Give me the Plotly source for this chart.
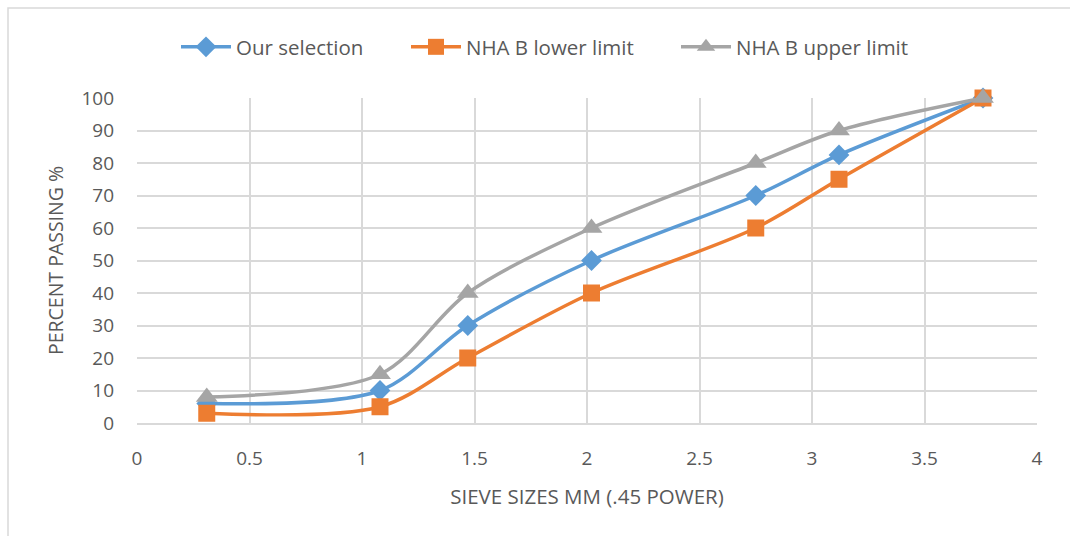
import plotly.graph_objects as go

sieve_x = [0.31, 1.08, 1.47, 2.02, 2.75, 3.12, 3.76]
our_selection = [6, 10, 30, 50, 70, 82.5, 100]
lower_limit = [3, 5, 20, 40, 60, 75, 100]
upper_limit = [8, 15, 40, 60, 80, 90, 100]

x_ticks = [0, 0.5, 1, 1.5, 2, 2.5, 3, 3.5, 4]
y_ticks = [0, 10, 20, 30, 40, 50, 60, 70, 80, 90, 100]

FONT = "'Open Sans', sans-serif"
TXT = "#595959"
GRID = "#d9d9d9"

fig = go.Figure()
series = [
    ("Our selection", our_selection, "#5B9BD5", "diamond", 16, "legend", 180),
    ("NHA B lower limit", lower_limit, "#ED7D31", "square", 17, "legend2", 410),
    ("NHA B upper limit", upper_limit, "#A5A5A5", "triangle-up", 19, "legend3", 680),
]
legend_cfg = {}
for name, ys, col, sym, sz, lg, lx in series:
    fig.add_trace(go.Scatter(
        x=sieve_x, y=ys, name=name, mode="lines+markers",
        line=dict(color=col, width=3.5, shape="spline", smoothing=0.9),
        marker=dict(color=col, symbol=sym, size=sz),
        cliponaxis=False, legend=lg,
    ))
    legend_cfg[lg] = dict(x=(lx - 137 - 4) / 900, xanchor="left", y=1 + (98 - 47) / 325, yanchor="middle",
                          orientation="h", bgcolor="rgba(0,0,0,0)", itemwidth=50,
                          font=dict(size=20.5, color=TXT, family=FONT))

fig.update_layout(
    width=1070, height=536,
    margin=dict(l=137, r=33, t=98, b=113, autoexpand=False),
    paper_bgcolor="white", plot_bgcolor="white",
    font=dict(family=FONT, color=TXT, size=19),
    showlegend=True,
    **legend_cfg,
    xaxis=dict(range=[0, 4], tickvals=x_ticks, ticktext=[f"{v:g}" for v in x_ticks],
               showgrid=True, gridcolor=GRID, gridwidth=1.5, zeroline=False,
               showline=True, linecolor=GRID, linewidth=1.5, mirror=False,
               ticks="", tickfont=dict(size=19, color=TXT), ticklabelstandoff=17,
               title=dict(text="SIEVE SIZES MM (.45 POWER)", font=dict(size=20.5, color=TXT), standoff=20)),
    yaxis=dict(range=[0, 100], tickvals=y_ticks,
               showgrid=True, gridcolor=GRID, gridwidth=1.5, zeroline=False,
               showline=False, ticks="", tickfont=dict(size=19, color=TXT), ticklabelstandoff=22,
               title=dict(text="PERCENT PASSING %", font=dict(size=19.5, color=TXT), standoff=12)),
)
fig.add_shape(type="rect", xref="paper", yref="paper",
              x0=-129 / 900, x1=1.2, y0=-0.6, y1=1 + 90 / 325,
              line=dict(color="#d9d9d9", width=1.5), fillcolor="rgba(0,0,0,0)", layer="below")

fig.write_html("out.html")
